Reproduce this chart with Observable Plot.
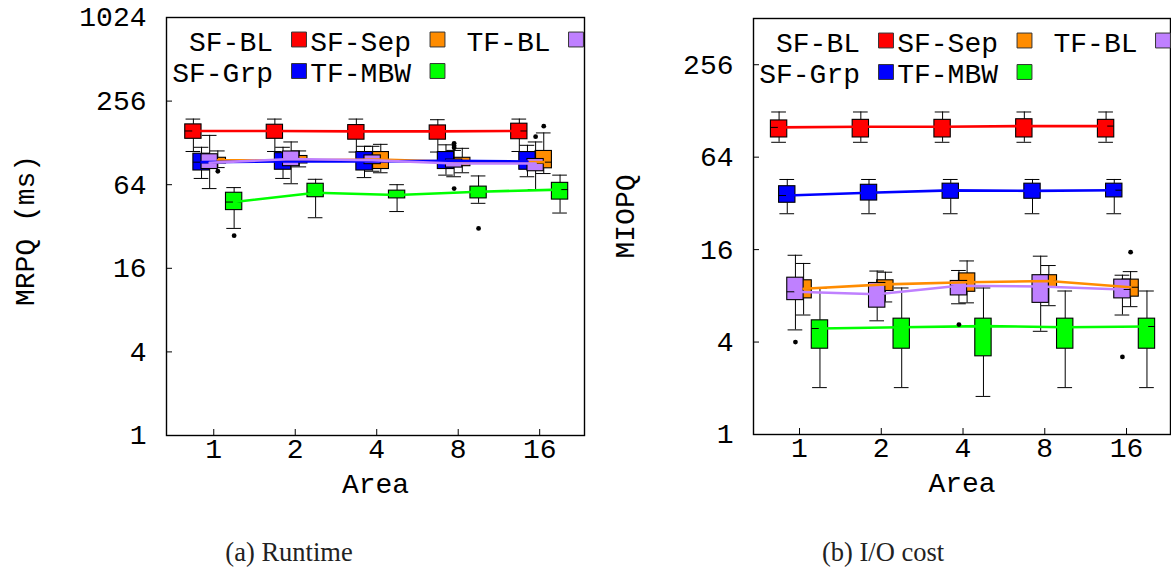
<!DOCTYPE html>
<html><head><meta charset="utf-8">
<script src="https://cdn.jsdelivr.net/npm/d3@7"></script>
<script src="https://cdn.jsdelivr.net/npm/@observablehq/plot@0.6"></script>
<style>
html,body{margin:0;padding:0;background:#fff;}
#wrap{position:relative;width:1171px;height:574px;overflow:hidden;background:#fff;}
.panel{position:absolute;top:0;}
.cap{position:absolute;font-family:"Liberation Serif",serif;font-size:26.5px;line-height:30px;color:#222;white-space:nowrap;transform:translateX(-50%);}
</style></head><body>
<div id="wrap">
  <div id="pa" class="panel" style="left:0px"></div>
  <div id="pb" class="panel" style="left:600px"></div>
  <div class="cap" style="left:289px;top:537px">(a) Runtime</div>
  <div class="cap" style="left:883px;top:537px">(b) I/O cost</div>
</div>
<script>
// ---- categories / series ----
const areas = ["1", "2", "4", "8", "16"];
const seriesNames = ["SF-BL", "SF-Sep", "TF-BL", "SF-Grp", "TF-MBW"];
const seriesColors = ["#ff0000", "#ff8c00", "#bf80ff", "#0000ff", "#00ff00"];
const seriesOffsets = [-0.25, 0.05, -0.05, -0.15, 0.25];
const drawOrder = ["SF-BL", "SF-Sep", "SF-Grp", "TF-BL", "TF-MBW"];

// ---- (a) Runtime, MRPQ (ms): per area [low whisker, Q1, median, Q3, high whisker] ----
const rtSFBL  = [[111,137,156,174,190],[111,137,156,173,190],[110,135,155,172,190],[110,135,155,171,188],[111,136,156,176,190]];
const rtSFSep = [[85,91,96,100,112],[86,91,96,103,112],[78,83,97,110,125],[78,87,93,100,117],[77,84,93,112,151]];
const rtTFBL  = [[60,83,92,106,145],[65,87,98,111,130],[80,90,96,104,121],[73,85,91,97,113],[59,80,91,98,130]];
const rtSFGrp = [[71,81,93,107,119],[71,82,94,108,119],[72,81,94,110,121],[75,83,95,110,124],[73,82,94,110,123]];
const rtTFMBW = [[31,42,48,56,61],[37,52,56,65,70],[41,51,54,58,64],[47,51,57,62,74],[40,50,59,66,75]];
// outliers: [series, area index, value]
const rtOutliers = [["SF-Sep",0,80],["TF-MBW",0,27.5],["TF-BL",3,118],["TF-BL",3,122],["TF-BL",3,127],["TF-BL",3,60],["TF-MBW",3,31],["TF-BL",4,142],["SF-Sep",4,169]];

// ---- (b) I/O cost, MIOPQ ----
const ioSFBL  = [[80,86,100,111,126],[80,86,101,112,126],[80,86,101,112,126],[80,86,102,113,126],[80,86,102,112,126]];
const ioSFSep = [[6.0,7.7,8.9,10.1,13.0],[7.3,8.6,9.5,10.1,11.4],[7.2,8.5,9.8,11.2,13.5],[6.9,9.1,10.0,10.9,12.6],[6.8,7.9,9.1,10.2,11.5]];
const ioTFBL  = [[4.8,7.5,8.5,10.5,14.7],[5.5,6.7,8.2,9.7,11.6],[7.1,8.05,9.3,10.0,11.7],[4.7,7.2,9.2,10.9,14.5],[6.0,7.7,8.8,10.2,10.9]];
const ioSFGrp = [[27.4,32.3,36,41.4,45.8],[27.4,33.4,37.5,42.3,45.8],[27.4,34.3,38.9,43,45.8],[27.4,34.3,38.6,43,45.8],[27.4,35,39,43,45.8]];
const ioTFMBW = [[2.02,3.62,4.9,5.54,9.0],[2.02,3.62,5.0,5.68,9.0],[1.77,3.23,5.08,5.68,9.0],[2.02,3.62,5.0,5.68,8.6],[2.02,3.62,5.05,5.68,8.6]];
const ioOutliers = [["TF-BL",0,4.0],["TF-BL",2,5.2],["TF-BL",4,3.2],["SF-Sep",4,15.4]];

// ---- tick labels ----
const rtYTicks = [1, 4, 16, 64, 256, 1024];
const ioYTicks = [1, 4, 16, 64, 256];
const xTicks = [1, 2, 3, 4, 5];

// legend layout (row, column) per series
const legendRow = [0, 0, 0, 1, 1];
const legendCol = [0, 1, 2, 0, 1];

const FONT = "'Liberation Mono', 'DejaVu Sans Mono', monospace";

function rowsFor(name, stats) {
  const k = seriesNames.indexOf(name);
  return stats.map((s, i) => ({series: name, x: i + 1 + seriesOffsets[k], lo: s[0], q1: s[1], med: s[2], q3: s[3], hi: s[4]}));
}

function panel(cfg) {
  const {stats, outliers, yDomain, yTicks, xDomain, width, height, ml, mr, mt, mb, yLabel, yLabelDx, yLabelDy} = cfg;
  const pxPerUnit = (width - ml - mr) / (xDomain[1] - xDomain[0]);
  const pxPerOct = (height - mt - mb) / Math.log2(yDomain[1] / yDomain[0]);
  const hw = 0.1, cw = 0.09;
  const marks = [];
  // boxes, series by series
  for (const name of drawOrder) {
    const k = seriesNames.indexOf(name);
    const rows = rowsFor(name, stats[name]);
    marks.push(
      Plot.ruleX(rows, {x: "x", y1: "lo", y2: "q1", stroke: "#000", strokeWidth: 1}),
      Plot.ruleX(rows, {x: "x", y1: "q3", y2: "hi", stroke: "#000", strokeWidth: 1}),
      Plot.ruleY(rows, {y: "lo", x1: d => d.x - cw, x2: d => d.x + cw, stroke: "#000", strokeWidth: 1}),
      Plot.ruleY(rows, {y: "hi", x1: d => d.x - cw, x2: d => d.x + cw, stroke: "#000", strokeWidth: 1}),
      Plot.rect(rows, {x1: d => d.x - hw, x2: d => d.x + hw, y1: "q1", y2: "q3", fill: seriesColors[k], stroke: "#000", strokeWidth: 1.1}),
      Plot.ruleY(rows, {y: "med", x1: d => d.x - hw, x2: d => d.x + hw, stroke: "#000", strokeWidth: 1})
    );
  }
  // median lines
  for (const name of drawOrder) {
    const k = seriesNames.indexOf(name);
    marks.push(Plot.line(rowsFor(name, stats[name]), {x: "x", y: "med", stroke: seriesColors[k], strokeWidth: 2.6}));
  }
  // outliers
  marks.push(Plot.dot(outliers, {
    x: d => d[1] + 1 + seriesOffsets[seriesNames.indexOf(d[0])],
    y: d => d[2], r: 2.4, fill: "#000", stroke: null
  }));
  // frame, inward ticks, axes
  marks.push(
    Plot.frame({stroke: "#000", strokeWidth: 1.4}),
    Plot.ruleY(yTicks, {y: d => d, x1: () => xDomain[0], x2: () => xDomain[0] + 6 / pxPerUnit, stroke: "#000", strokeWidth: 1}),
    Plot.ruleX(xTicks, {x: d => d, y1: () => yDomain[0], y2: () => yDomain[0] * Math.pow(2, 6 / pxPerOct), stroke: "#000", strokeWidth: 1}),
    Plot.axisY(yTicks, {tickSize: 0, tickPadding: 20, tickFormat: d => String(d), label: null, fontSize: 28}),
    Plot.axisX(xTicks, {tickSize: 0, tickPadding: 3, tickFormat: d => areas[d - 1], label: null, fontSize: 28}),
    Plot.text(["Area"], {frameAnchor: "bottom", lineAnchor: "middle", textAnchor: "middle", dy: 49, fontSize: 28, fill: "#000"}),
    Plot.text([yLabel], {frameAnchor: "left", lineAnchor: "middle", textAnchor: "middle", rotate: -90, dx: yLabelDx, dy: yLabelDy, fontSize: 28, fill: "#000"})
  );
  // legend inside the frame
  const textEnd = [106.5, 244.5, 384];
  const swatchX = [132.5, 271, 409.5];
  const textY = [24.5, 56];
  const swatchY = [22, 53.5];
  seriesNames.forEach((name, k) => {
    const r = legendRow[k], c = legendCol[k];
    marks.push(
      Plot.text([name], {frameAnchor: "top-left", dx: textEnd[c], dy: textY[r], textAnchor: "end", lineAnchor: "middle", fontSize: 28, fill: "#000"}),
      Plot.dot([name], {frameAnchor: "top-left", dx: swatchX[c], dy: swatchY[r], symbol: "square", r: 8.4, fill: seriesColors[k], stroke: "#333", strokeWidth: 1})
    );
  });
  return Plot.plot({
    width, height, marginLeft: ml, marginRight: mr, marginTop: mt, marginBottom: mb,
    x: {domain: xDomain, axis: null},
    y: {type: "log", base: 2, domain: yDomain, axis: null},
    style: {fontFamily: FONT, fontSize: "28px", color: "#000", background: "#fff", overflow: "visible"},
    marks
  });
}

const rtStats = {"SF-BL": rtSFBL, "SF-Sep": rtSFSep, "TF-BL": rtTFBL, "SF-Grp": rtSFGrp, "TF-MBW": rtTFMBW};
const ioStats = {"SF-BL": ioSFBL, "SF-Sep": ioSFSep, "TF-BL": ioTFBL, "SF-Grp": ioSFGrp, "TF-MBW": ioTFMBW};

document.getElementById("pa").appendChild(panel({
  stats: rtStats, outliers: rtOutliers, yDomain: [1, 1024], yTicks: rtYTicks,
  xDomain: [0.42, 5.55], width: 600, height: 500, ml: 166, mr: 16, mt: 17, mb: 65,
  yLabel: "MRPQ (ms)", yLabelDx: -141, yLabelDy: 4
}));
document.getElementById("pb").appendChild(panel({
  stats: ioStats, outliers: ioOutliers, yDomain: [1, 512], yTicks: ioYTicks,
  xDomain: [0.437, 5.538], width: 571, height: 500, ml: 153, mr: 1, mt: 18, mb: 66,
  yLabel: "MIOPQ", yLabelDx: -128, yLabelDy: -10
}));
</script>
</body></html>
